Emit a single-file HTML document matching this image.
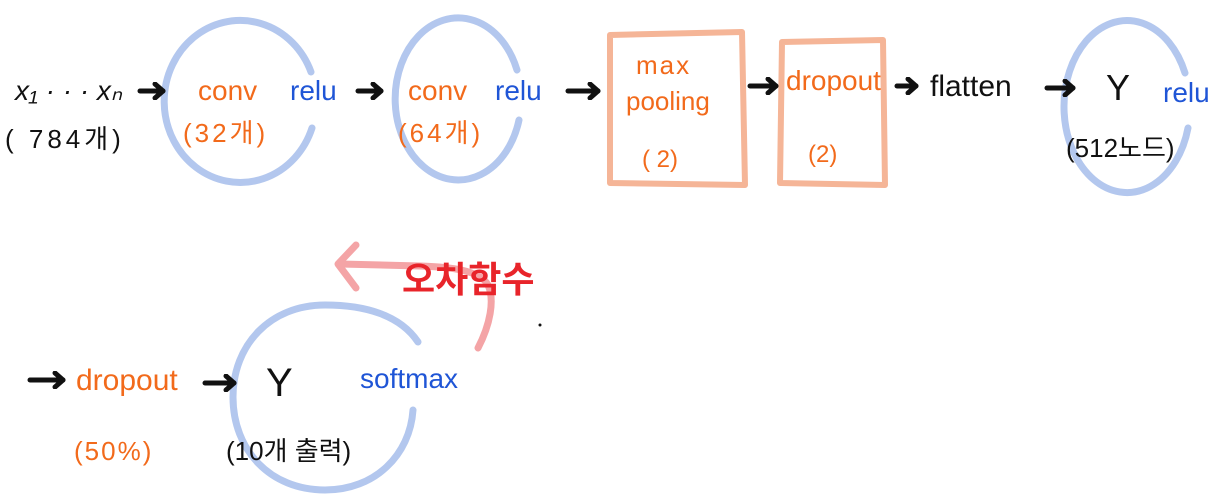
<!DOCTYPE html>
<html><head><meta charset="utf-8"><style>
html,body{margin:0;padding:0;background:#fff;}
svg{display:block}
text{font-family:"Liberation Sans","Noto Sans CJK KR",sans-serif;}
.o{fill:#f26a1b}.b{fill:#1f55d6}.k{fill:#111}
</style></head><body>
<svg width="1227" height="496" viewBox="0 0 1227 496" xmlns="http://www.w3.org/2000/svg">
<defs>
<marker id="ah" markerWidth="16" markerHeight="18" refX="11" refY="9" orient="auto" markerUnits="userSpaceOnUse">
<path d="M3,2 L11,9 L3,16" fill="none" stroke="#111" stroke-width="5" stroke-linecap="round" stroke-linejoin="round"/></marker>
</defs>
<!-- blue circles -->
<g fill="none" stroke="#b3c7ee" stroke-width="7" stroke-linecap="round">
<path d="M311,72 A76,81 0 1 0 312,128"/>
<path d="M517,70 A63,81 0 1 0 519,120"/>
<path d="M1185,73 A63,86 0 1 0 1188,128"/>
<path d="M418,342 C400,315 365,305 325,305 C270,305 233,345 233,397 C233,450 270,490 325,490 C375,490 410,455 413,410"/>
</g>
<!-- orange rects -->
<g fill="none" stroke="#f5b597" stroke-width="6" stroke-linejoin="round">
<path d="M610,35 L742,32 L745,185 L610,183 Z"/>
<path d="M782,42 L883,40 L885,185 L780,183 Z"/>
</g>
<!-- red arrow -->
<g fill="none" stroke="#f4a4a6" stroke-width="7" stroke-linecap="round" stroke-linejoin="round">
<path d="M478,348 C490,325 495,300 488,285 C480,270 450,267 420,266 L340,264"/>
<path d="M356,245 L338,264 L356,288"/>
</g>
<!-- black arrows -->
<g stroke="#111" stroke-width="5" stroke-linecap="round" marker-end="url(#ah)">
<line x1="140" y1="91" x2="163" y2="91"/>
<line x1="358" y1="91" x2="381" y2="91"/>
<line x1="568" y1="91" x2="598" y2="91"/>
<line x1="750" y1="86" x2="776" y2="86"/>
<line x1="897" y1="86" x2="916" y2="86"/>
<line x1="1047" y1="88" x2="1073" y2="88"/>
<line x1="30" y1="380" x2="63" y2="380"/>
<line x1="205" y1="383" x2="234" y2="383"/>
</g>
<g font-size="28">
<text x="15" y="100" class="k" font-style="italic">x₁ · · · xₙ</text>
<text x="5" y="148" class="k" font-size="26" letter-spacing="4">( 784개)</text>
<text x="198" y="100" class="o">conv</text>
<text x="290" y="100" class="b">relu</text>
<text x="183" y="142" class="o" font-size="26" letter-spacing="3">(32개)</text>
<text x="408" y="100" class="o">conv</text>
<text x="495" y="100" class="b">relu</text>
<text x="398" y="142" class="o" font-size="26" letter-spacing="3">(64개)</text>
<text x="636" y="74" class="o" font-size="26" letter-spacing="2">max</text>
<text x="626" y="110" class="o" font-size="26">pooling</text>
<text x="642" y="167" class="o" font-size="24">( 2)</text>
<text x="786" y="90" class="o">dropout</text>
<text x="808" y="162" class="o" font-size="24">(2)</text>
<text x="930" y="96" class="k" font-size="30">flatten</text>
<text x="1106" y="100" class="k" font-size="36">Y</text>
<text x="1163" y="102" class="b">relu</text>
<text x="1066" y="157" class="k" font-size="26">(512노드)</text>
<text x="76" y="390" class="o" font-size="30">dropout</text>
<text x="74" y="460" class="o" font-size="26" letter-spacing="2">(50%)</text>
<text x="266" y="396" class="k" font-size="40">Y</text>
<text x="360" y="388" class="b" font-size="28">softmax</text>
<text x="226" y="460" class="k" font-size="26">(10개 출력)</text>
<text x="402" y="292" fill="#e8242a" font-size="36" font-weight="bold">오차함수</text>
</g>
<circle cx="540" cy="325" r="1.5" fill="#111"/>
</svg>
</body></html>
